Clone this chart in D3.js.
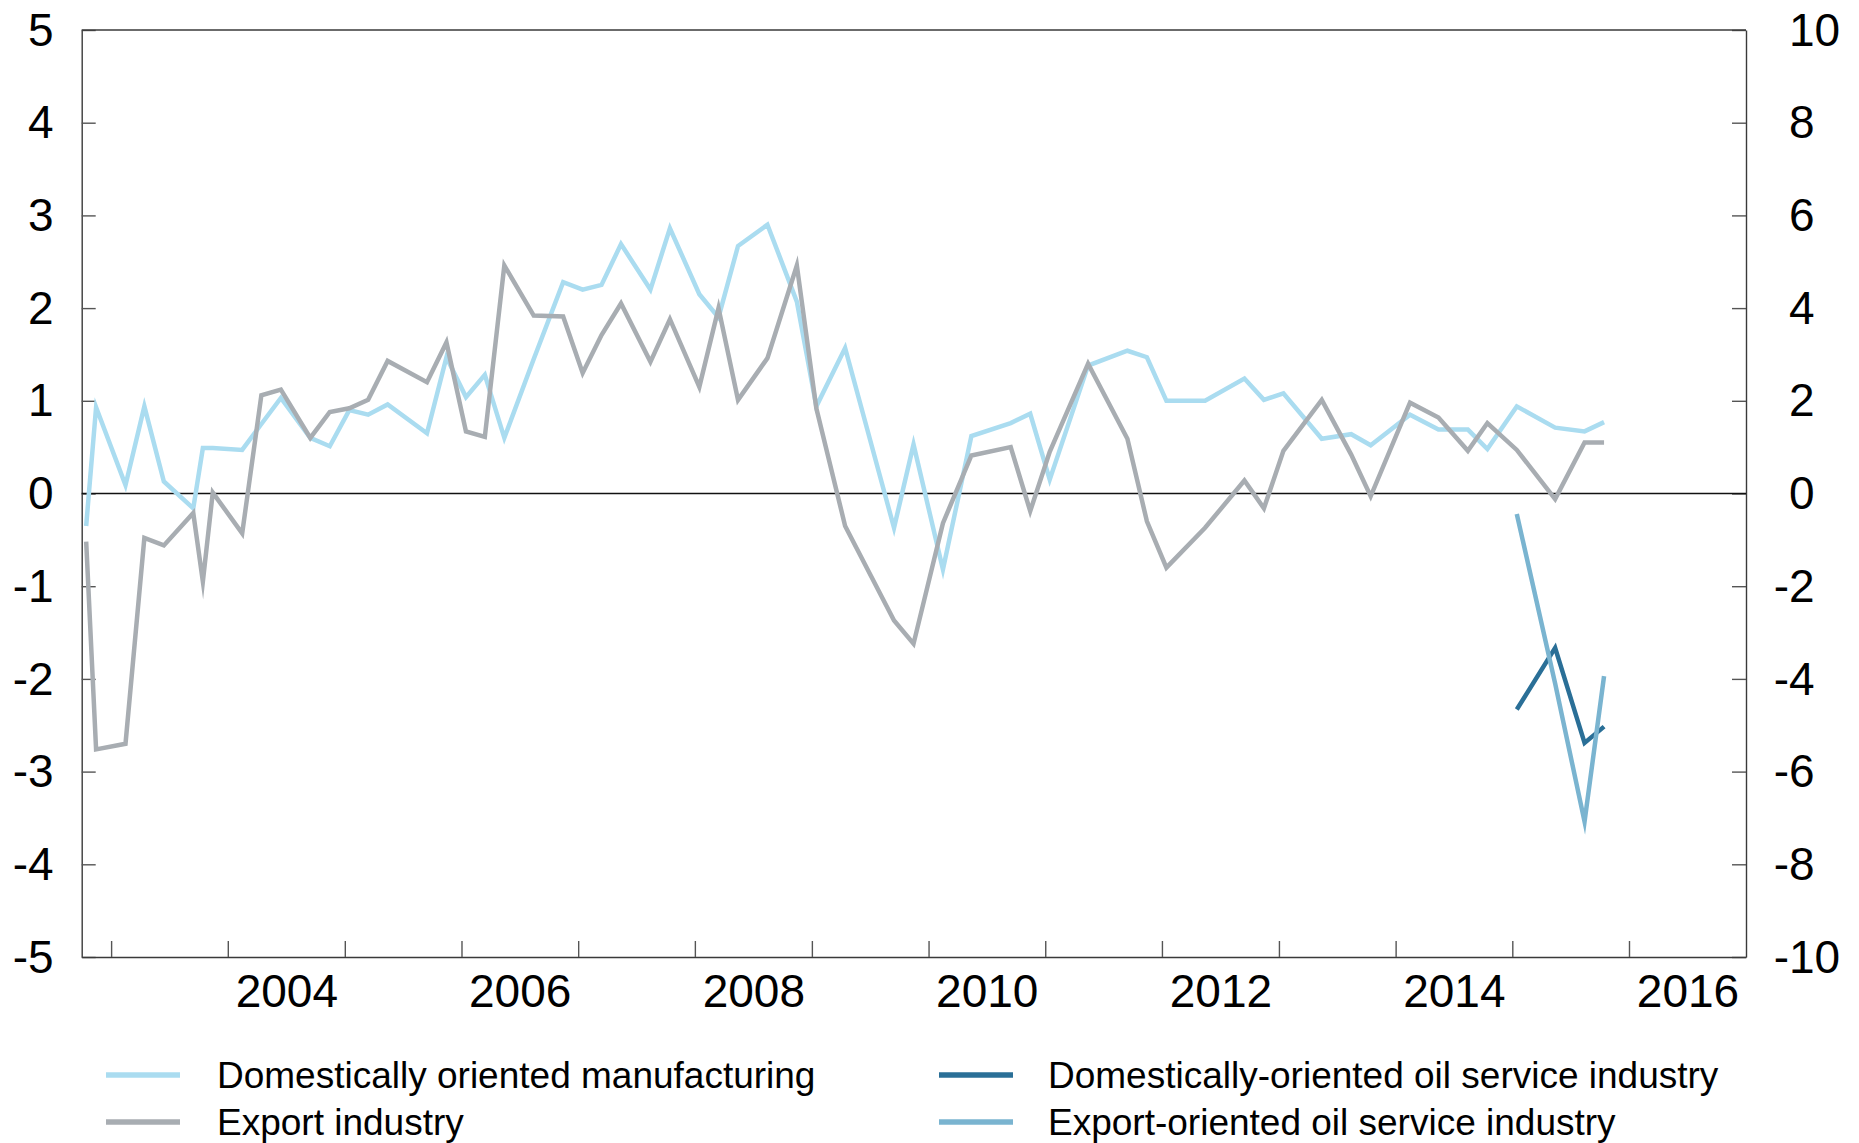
<!DOCTYPE html>
<html>
<head>
<meta charset="utf-8">
<script src="https://cdn.jsdelivr.net/npm/d3@7"></script>
<style>
  body { margin: 0; background: #ffffff; }
  svg { display: block; }
  text { font-family: "Liberation Sans", Arial, Helvetica, sans-serif; fill: #000; }
</style>
</head>
<body>
<svg id="chart" width="1859" height="1143"></svg>
<script>
// ---------------- DATA ----------------
const surveyDates = [
  "2002-10","2002-11","2003-02","2003-04","2003-06","2003-09","2003-10","2003-11",
  "2004-02","2004-04","2004-06","2004-09","2004-11",
  "2005-01","2005-03","2005-05","2005-09","2005-11",
  "2006-01","2006-03","2006-05","2006-08","2006-11",
  "2007-01","2007-03","2007-05","2007-08","2007-10",
  "2008-01","2008-03","2008-05","2008-08","2008-11",
  "2009-01","2009-04","2009-09","2009-11",
  "2010-02","2010-05","2010-09","2010-11",
  "2011-01","2011-05","2011-09","2011-11",
  "2012-01","2012-05","2012-09","2012-11",
  "2013-01","2013-05","2013-08","2013-10",
  "2014-02","2014-05","2014-08","2014-10",
  "2015-01","2015-05","2015-08","2015-10"
];
const domesticManufacturing = [
  -0.35, 0.93, 0.09, 0.94, 0.13, -0.16, 0.49, 0.49,
  0.47, 0.75, 1.03, 0.60, 0.51,
  0.90, 0.85, 0.96, 0.65, 1.47,
  1.04, 1.28, 0.60, 1.45, 2.28,
  2.20, 2.25, 2.69, 2.20, 2.86,
  2.15, 1.90, 2.67, 2.90, 2.07,
  0.94, 1.57, -0.37, 0.53,
  -0.82, 0.62, 0.76, 0.86,
  0.15, 1.38, 1.54, 1.47,
  1.00, 1.00, 1.24, 1.01,
  1.08, 0.59, 0.64, 0.52,
  0.85, 0.69, 0.69, 0.48,
  0.94, 0.71, 0.67, 0.77
];
const exportIndustry = [
  -0.52, -2.76, -2.70, -0.48, -0.56, -0.21, -0.95, 0.01,
  -0.43, 1.06, 1.12, 0.60, 0.88,
  0.92, 1.01, 1.43, 1.20, 1.63,
  0.67, 0.61, 2.46, 1.92, 1.91,
  1.30, 1.71, 2.05, 1.42, 1.88,
  1.15, 2.00, 1.01, 1.46, 2.46,
  0.92, -0.35, -1.37, -1.62,
  -0.32, 0.41, 0.50, -0.19,
  0.45, 1.40, 0.59, -0.30,
  -0.80, -0.37, 0.14, -0.16,
  0.46, 1.01, 0.42, -0.03,
  0.98, 0.82, 0.46, 0.76,
  0.47, -0.06, 0.55, 0.55
];
const oilDates = ["2015-01","2015-05","2015-08","2015-10"];
const domesticOilService = [-4.66, -3.33, -5.38, -5.03];   // right axis
const exportOilService   = [-0.44, -4.10, -7.08, -3.94];   // right axis

const leftTicks  = [5, 4, 3, 2, 1, 0, -1, -2, -3, -4, -5];
const rightTicks = [10, 8, 6, 4, 2, 0, -2, -4, -6, -8, -10];
const yearTicks  = [2003,2004,2005,2006,2007,2008,2009,2010,2011,2012,2013,2014,2015,2016];
const yearLabels = [2004, 2006, 2008, 2010, 2012, 2014, 2016];

const seriesNames  = ["Domestically oriented manufacturing", "Export industry",
                      "Domestically-oriented oil service industry", "Export-oriented oil service industry"];
const seriesColors = ["#aadcf0", "#a8adb2", "#2a6f97", "#7ab4d0"];

// ---------------- LAYOUT ----------------
const W = 1859, H = 1143;
const plot = { left: 81.7, right: 1746, top: 30, bottom: 957 };

const parseMid = s => { const [y, m] = s.split("-").map(Number); return new Date(y, m - 1, 15); };

const x = d3.scaleTime()
  .domain([new Date(2002, 9, 1), new Date(2017, 0, 1)])
  .range([plot.left, plot.right]);
const yL = d3.scaleLinear().domain([-5, 5]).range([plot.bottom, plot.top]);
const yR = d3.scaleLinear().domain([-10, 10]).range([plot.bottom, plot.top]);

const svg = d3.select("#chart");
svg.append("rect").attr("width", W).attr("height", H).attr("fill", "#fff");

const fmt = d => String(d);

// Left axis
const gL = svg.append("g").attr("transform", `translate(${plot.left},0)`)
  .call(d3.axisLeft(yL).tickValues(leftTicks).tickFormat(fmt)
    .tickSizeInner(-14).tickSizeOuter(0).tickPadding(28));
gL.selectAll("text").style("font-size", "46px").attr("dy", "0.33em");

// Right axis
const gR = svg.append("g").attr("transform", `translate(${plot.right},0)`)
  .call(d3.axisRight(yR).tickValues(rightTicks).tickFormat(fmt)
    .tickSizeInner(-14).tickSizeOuter(0).tickPadding(43));
gR.selectAll("text").style("font-size", "46px").attr("dy", "0.33em")
  .attr("dx", d => d < 0 ? "-0.333em" : "0");

// Bottom axis: year ticks (inward), labels centred in even years
const gB = svg.append("g").attr("transform", `translate(0,${plot.bottom})`)
  .call(d3.axisBottom(x).tickValues(yearTicks.map(yv => new Date(yv, 0, 1)))
    .tickFormat("").tickSizeInner(-16).tickSizeOuter(0));
const gBL = svg.append("g").attr("transform", `translate(0,${plot.bottom})`)
  .call(d3.axisBottom(x).tickValues(yearLabels.map(yv => new Date(yv, 6, 2)))
    .tickFormat(d => d.getFullYear()).tickSize(0).tickPadding(17));
gBL.select(".domain").remove();
gBL.selectAll("text").style("font-size", "46px");

[gL, gR, gB].forEach(g => {
  g.select(".domain").attr("stroke", "#3a3a3a").attr("stroke-width", 1.4);
  g.selectAll(".tick line").attr("stroke", "#555").attr("stroke-width", 1.4);
});

// Top frame line
svg.append("line")
  .attr("x1", plot.left).attr("x2", plot.right)
  .attr("y1", yL(5)).attr("y2", yL(5))
  .attr("stroke", "#3a3a3a").attr("stroke-width", 1.4);

// Zero line
svg.append("line")
  .attr("x1", plot.left).attr("x2", plot.right)
  .attr("y1", yL(0)).attr("y2", yL(0))
  .attr("stroke", "#111").attr("stroke-width", 1.3);

// ---------------- LINES ----------------
const lineL = d3.line().x(d => x(d.date)).y(d => yL(d.v));
const lineR = d3.line().x(d => x(d.date)).y(d => yR(d.v));

const zip = (ds, vs) => ds.map((s, i) => ({ date: parseMid(s), v: vs[i] }));

const series = [
  { data: zip(surveyDates, domesticManufacturing), gen: lineL, color: seriesColors[0] },
  { data: zip(surveyDates, exportIndustry),        gen: lineL, color: seriesColors[1] },
  { data: zip(oilDates, domesticOilService),       gen: lineR, color: seriesColors[2] },
  { data: zip(oilDates, exportOilService),         gen: lineR, color: seriesColors[3] }
];

series.forEach(s => {
  svg.append("path")
    .datum(s.data)
    .attr("d", s.gen)
    .attr("fill", "none")
    .attr("stroke", s.color)
    .attr("stroke-width", 4.5)
    .attr("stroke-linejoin", "miter")
    .attr("stroke-miterlimit", 10);
});

// ---------------- LEGEND ----------------
const legendPos = [
  { sx: 106, tx: 217, y: 1075 },
  { sx: 106, tx: 217, y: 1122 },
  { sx: 939, tx: 1048, y: 1075 },
  { sx: 939, tx: 1048, y: 1122 }
];
const lg = svg.append("g");
seriesNames.forEach((name, i) => {
  const p = legendPos[i];
  lg.append("line")
    .attr("x1", p.sx).attr("x2", p.sx + 74)
    .attr("y1", p.y).attr("y2", p.y)
    .attr("stroke", seriesColors[i]).attr("stroke-width", 5.5);
  lg.append("text")
    .attr("x", p.tx).attr("y", p.y + 12.5)
    .style("font-size", "37px")
    .text(name);
});
</script>
</body>
</html>
